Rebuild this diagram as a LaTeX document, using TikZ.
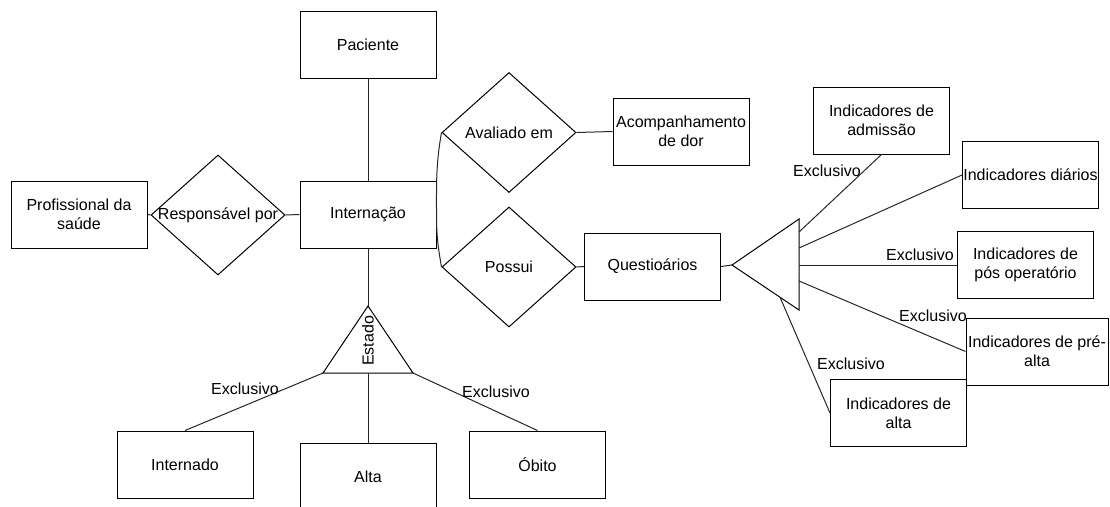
\documentclass[tikz,border=0pt]{standalone}
\usepackage{fontspec}
\setmainfont{Liberation Sans}
\usetikzlibrary{shapes.geometric}
\begin{document}
\begin{tikzpicture}[x=1pt,y=-1pt,
  every node/.style={font=\fontsize{16}{19}\selectfont, text=black},
  entity/.style={draw, line width=1pt, minimum width=136pt, minimum height=67pt, inner sep=0pt, align=center},
  rel/.style={draw, diamond, line width=1pt, minimum width=134pt, minimum height=120pt, inner sep=0pt},
  link/.style={line width=1pt, draw=black!85},
  tag/.style={inner sep=0pt}]
\useasboundingbox (0,0) rectangle (1110,506);

% entities
\node[entity] (pac) at (368,44.5) {Paciente};
\node[entity] (prof) at (79,214.5) {Profissional da\\saúde};
\node[entity] (int) at (368,214.5) {Internação};
\node[entity] (acomp) at (681,131.5) {Acompanhamento\\de dor};
\node[entity] (quest) at (652.5,266.5) {Questioários};
\node[entity] (adm) at (881.5,120.5) {Indicadores de\\admissão};
\node[entity] (dia) at (1030.5,175) {Indicadores diários};
\node[entity] (pos) at (1025.5,265) {Indicadores de\\pós operatório};
\node[entity, minimum width=142pt] (pre) at (1037,351.5) {Indicadores de pré-\\alta};
\node[entity] (altaind) at (898.5,413) {Indicadores de\\alta};
\node[entity] (internado) at (185,464.5) {Internado};
\node[entity] (alta) at (368,476.5) {Alta};
\node[entity] (obito) at (537.5,464.5) {Óbito};

% relationships
\node[rel, label={center:Responsável por}] (resp) at (218,215) {};
\node[rel, label={center:Avaliado em}] (av) at (509,132.5) {};
\node[rel, label={center:Possui}] (po) at (509,267) {};

% specialisation of the stay state
\coordinate (est-t) at (368,306);
\coordinate (est-l) at (323,373);
\coordinate (est-r) at (413,373);
\coordinate (est-b) at (368,373);
\draw[line width=1pt] (est-t) -- (est-r) -- (est-l) -- cycle;
\node[tag, rotate=90] (estado) at (368,341) {Estado};

% specialisation of the questionnaires
\coordinate (q-apex) at (732,265);
\coordinate (q-top) at (799,219);
\coordinate (q-bot) at (799,310);
\draw[line width=1pt] (q-apex) -- (q-top) -- (q-bot) -- cycle;
\coordinate (q-1) at (799,232);
\coordinate (q-2) at (799,248);
\coordinate (q-3) at (799,265);
\coordinate (q-4) at (799,281);
\coordinate (q-5) at (780,297.2);

% connectors
\draw[link] (pac.south) -- (int.north);
\draw[link] (prof.east) -- (resp.west);
\draw[link] (resp.east) -- (int.west);
\draw[link] (av.west) to[out=-100, in=90] (int.east) to[out=-90, in=100] (po.west);
\draw[link] (av.east) -- (acomp.west);
\draw[link] (po.east) -- (quest.west);
\draw[link] (quest.east) -- (q-apex);
\draw[link] (int.south) -- (est-t);
\draw[link] (est-l) -- (internado.north);
\draw[link] (est-b) -- (alta.north);
\draw[link] (est-r) -- (obito.north);
\draw[link] (q-1) -- (adm.south);
\draw[link] (q-2) -- (dia.west);
\draw[link] (q-3) -- (pos.west);
\draw[link] (q-4) -- (pre.west);
\draw[link] (q-5) -- (altaind.west);

% labels
\node[tag] (ex1) at (245,389) {Exclusivo};
\node[tag] (ex2) at (496,392) {Exclusivo};
\node[tag] (ex3) at (827,171) {Exclusivo};
\node[tag] (ex4) at (920,255) {Exclusivo};
\node[tag] (ex5) at (933,316) {Exclusivo};
\node[tag] (ex6) at (851,364) {Exclusivo};
\end{tikzpicture}
\end{document}
